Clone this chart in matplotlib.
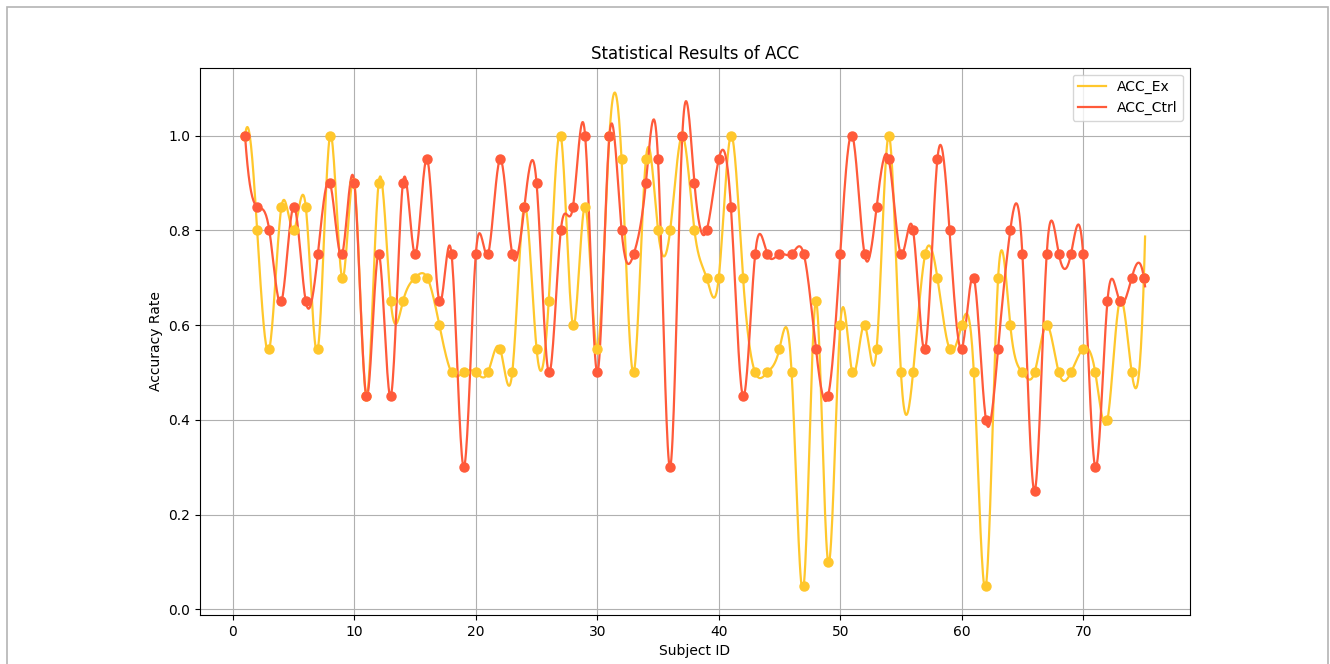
#!/usr/bin/env python
"""Per-subject accuracy, experiment vs control, with smoothed curves."""
import matplotlib

matplotlib.use("Agg")
import matplotlib.pyplot as plt
import numpy as np
from matplotlib.patches import Rectangle

subject_ids = list(range(1, 76))

acc_ex = [1.0, 0.8, 0.55, 0.85, 0.8, 0.85, 0.55, 1.0, 0.7, 0.9,
          0.45, 0.9, 0.65, 0.65, 0.7, 0.7, 0.6, 0.5, 0.5, 0.5,
          0.5, 0.55, 0.5, 0.85, 0.55, 0.65, 1.0, 0.6, 0.85, 0.55,
          1.0, 0.95, 0.5, 0.95, 0.8, 0.8, 1.0, 0.8, 0.7, 0.7,
          1.0, 0.7, 0.5, 0.5, 0.55, 0.5, 0.05, 0.65, 0.1, 0.6,
          0.5, 0.6, 0.55, 1.0, 0.5, 0.5, 0.75, 0.7, 0.55, 0.6,
          0.5, 0.05, 0.7, 0.6, 0.5, 0.5, 0.6, 0.5, 0.5, 0.55,
          0.5, 0.4, 0.65, 0.5, 0.7]

acc_ctrl = [1.0, 0.85, 0.8, 0.65, 0.85, 0.65, 0.75, 0.9, 0.75, 0.9,
            0.45, 0.75, 0.45, 0.9, 0.75, 0.95, 0.65, 0.75, 0.3, 0.75,
            0.75, 0.95, 0.75, 0.85, 0.9, 0.5, 0.8, 0.85, 1.0, 0.5,
            1.0, 0.8, 0.75, 0.9, 0.95, 0.3, 1.0, 0.9, 0.8, 0.95,
            0.85, 0.45, 0.75, 0.75, 0.75, 0.75, 0.75, 0.55, 0.45, 0.75,
            1.0, 0.75, 0.85, 0.95, 0.75, 0.8, 0.55, 0.95, 0.8, 0.55,
            0.7, 0.4, 0.55, 0.8, 0.75, 0.25, 0.75, 0.75, 0.75, 0.75,
            0.3, 0.65, 0.65, 0.7, 0.7]

COLOR_EX = "#FFC72C"
COLOR_CTRL = "#FF5A3A"


def cubic_spline(x, y, x_new):
    """Not-a-knot cubic spline (what scipy's make_interp_spline gives)."""
    x = np.asarray(x, dtype=float)
    y = np.asarray(y, dtype=float)
    n = len(x)
    h = np.diff(x)
    A = np.zeros((n, n))
    b = np.zeros(n)
    for i in range(1, n - 1):
        A[i, i - 1] = h[i - 1]
        A[i, i] = 2 * (h[i - 1] + h[i])
        A[i, i + 1] = h[i]
        b[i] = 6 * ((y[i + 1] - y[i]) / h[i] - (y[i] - y[i - 1]) / h[i - 1])
    # third derivative continuous at the second and second-to-last knots
    A[0, 0], A[0, 1], A[0, 2] = h[1], -(h[0] + h[1]), h[0]
    A[-1, -3], A[-1, -2], A[-1, -1] = h[-1], -(h[-2] + h[-1]), h[-2]
    M = np.linalg.solve(A, b)

    seg = np.clip(np.searchsorted(x, x_new) - 1, 0, n - 2)
    hi = h[seg]
    t0 = x_new - x[seg]
    t1 = x[seg + 1] - x_new
    return (M[seg] * t1 ** 3 / (6 * hi) + M[seg + 1] * t0 ** 3 / (6 * hi)
            + (y[seg] / hi - M[seg] * hi / 6) * t1
            + (y[seg + 1] / hi - M[seg + 1] * hi / 6) * t0)


def main() -> None:
    x = np.array(subject_ids, dtype=float)
    x_smooth = np.linspace(x.min(), x.max() + 0.1, 1500)
    ex_smooth = cubic_spline(x, acc_ex, x_smooth)
    ctrl_smooth = cubic_spline(x, acc_ctrl, x_smooth)

    fig = plt.figure(figsize=(13.3, 6.64), dpi=100)
    ax = fig.add_axes([0.1504, 0.0738, 0.7444, 0.8243])

    ax.plot(x_smooth, ex_smooth, color=COLOR_EX, linewidth=1.6, label="ACC_Ex")
    ax.plot(x_smooth, ctrl_smooth, color=COLOR_CTRL, linewidth=1.6, label="ACC_Ctrl")
    ax.plot(x, acc_ex, "o", color=COLOR_EX, markersize=6.5)
    ax.plot(x, acc_ctrl, "o", color=COLOR_CTRL, markersize=6.5)

    ax.set_title("Statistical Results of ACC", fontsize=12)
    ax.set_xlabel("Subject ID", fontsize=10)
    ax.set_ylabel("Accuracy Rate", fontsize=10)
    ax.grid(True)
    ax.legend(loc="upper right", fontsize=10)

    # screenshot frame around the figure
    fig.patches.append(Rectangle((7 / 1330, -0.05), 1321 / 1330, 1.05 - 7 / 664,
                                 transform=fig.transFigure, fill=False,
                                 edgecolor="#b4b4b4", linewidth=1.2))

    fig.savefig("out.png", dpi=100)
    plt.close(fig)


if __name__ == "__main__":
    main()
